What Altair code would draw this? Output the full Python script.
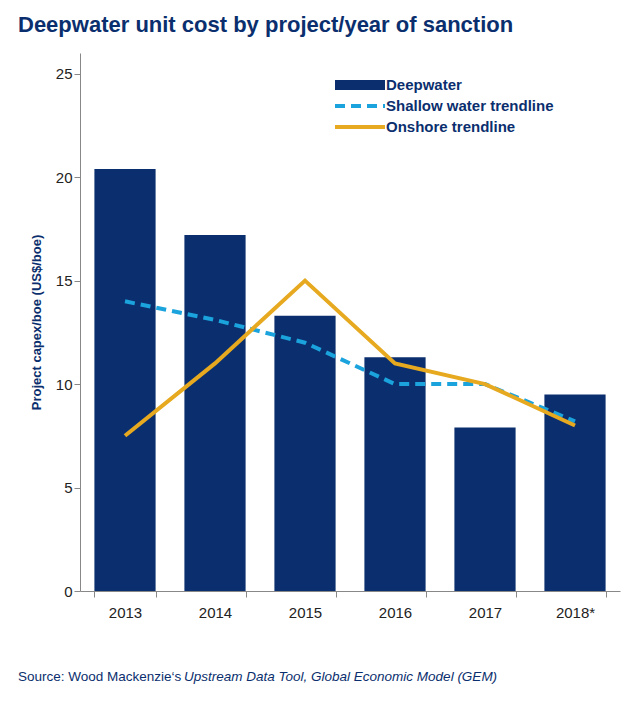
import altair as alt
import pandas as pd

years = ["2013", "2014", "2015", "2016", "2017", "2018*"]
deepwater = [20.4, 17.2, 13.3, 11.3, 7.9, 9.5]
shallow = [14.0, 13.1, 12.0, 10.0, 10.0, 8.2]
onshore = [7.5, 11.0, 15.0, 11.0, 10.0, 8.0]

df = pd.DataFrame({"year": years, "deep": deepwater, "shallow": shallow, "onshore": onshore})

NAVY = "#0b2f6e"
BLUE = "#1aa3dc"
GOLD = "#e6a91f"

W, H = 540, 538

x = alt.X("year:N", sort=years, title=None,
          scale=alt.Scale(paddingInner=0.32, paddingOuter=0.16),
          axis=alt.Axis(labelAngle=0, labelFontSize=15, labelColor="#222", labelPadding=8,
                        domainColor="#888", tickColor="#888", tickBand="extent", tickSize=6))
y = alt.Y("deep:Q", title="Project capex/boe (US$/boe)",
          scale=alt.Scale(domain=[0, 25]),
          axis=alt.Axis(values=[0, 5, 10, 15, 20, 25], grid=False, labelFontSize=15,
                        labelColor="#222", titleFontSize=13, titleColor=NAVY, titleFontWeight="bold",
                        domainColor="#888", tickColor="#888", tickSize=6, titlePadding=12))

base = alt.Chart(df)
bars = base.mark_bar(color=NAVY).encode(x=x, y=y)
sh = base.mark_line(color=BLUE, strokeWidth=4, strokeDash=[10, 6]).encode(x=x, y="shallow:Q")
on = base.mark_line(color=GOLD, strokeWidth=4).encode(x=x, y="onshore:Q")

leg = pd.DataFrame({
    "label": ["Deepwater", "Shallow water trendline", "Onshore trendline"],
    "ly": [32, 53, 74],
})
lb = alt.Chart(leg)
leg_bar = lb.transform_filter("datum.label == 'Deepwater'").mark_rule(color=NAVY, strokeWidth=10).encode(
    x=alt.value(255), x2=alt.value(305), y=alt.Y("ly:Q", scale=None))
leg_sh = lb.transform_filter("datum.label == 'Shallow water trendline'").mark_rule(
    color=BLUE, strokeWidth=4, strokeDash=[10, 6]).encode(
    x=alt.value(255), x2=alt.value(305), y=alt.Y("ly:Q", scale=None))
leg_on = lb.transform_filter("datum.label == 'Onshore trendline'").mark_rule(
    color=GOLD, strokeWidth=4).encode(
    x=alt.value(255), x2=alt.value(305), y=alt.Y("ly:Q", scale=None))
leg_txt = lb.mark_text(align="left", baseline="middle", fontSize=15, fontWeight="bold",
                       color=NAVY, font="Liberation Sans").encode(
    x=alt.value(306), y=alt.Y("ly:Q", scale=None), text="label:N")

src = pd.DataFrame({"t": ["Source: Wood Mackenzie\u2018s"], "u": ["Upstream Data Tool, Global Economic Model (GEM)"]})
s1 = alt.Chart(src).mark_text(align="left", baseline="middle", fontSize=13.5, color=NAVY,
                              font="Liberation Sans").encode(
    x=alt.value(-62), y=alt.value(H + 86), text="t:N")
s2 = alt.Chart(src).mark_text(align="left", baseline="middle", fontSize=13.5, color=NAVY,
                              font="Liberation Sans", fontStyle="italic").encode(
    x=alt.value(104), y=alt.value(H + 86), text="u:N")

chart = alt.layer(bars, sh, on, leg_bar, leg_sh, leg_on, leg_txt, s1, s2).properties(
    width=W, height=H, padding={"left": 10, "top": 6, "right": 2, "bottom": 0},
    autosize=alt.AutoSizeParams(type="pad"),
    title=alt.TitleParams("Deepwater unit cost by project/year of sanction", fontSize=22,
                          color=NAVY, font="Liberation Sans", fontWeight="bold",
                          anchor="start", offset=16),
).configure_view(stroke=None).configure_axis(labelFont="Liberation Sans", titleFont="Liberation Sans")

chart.save("out.html", embed_options={"renderer": "svg", "actions": False})
